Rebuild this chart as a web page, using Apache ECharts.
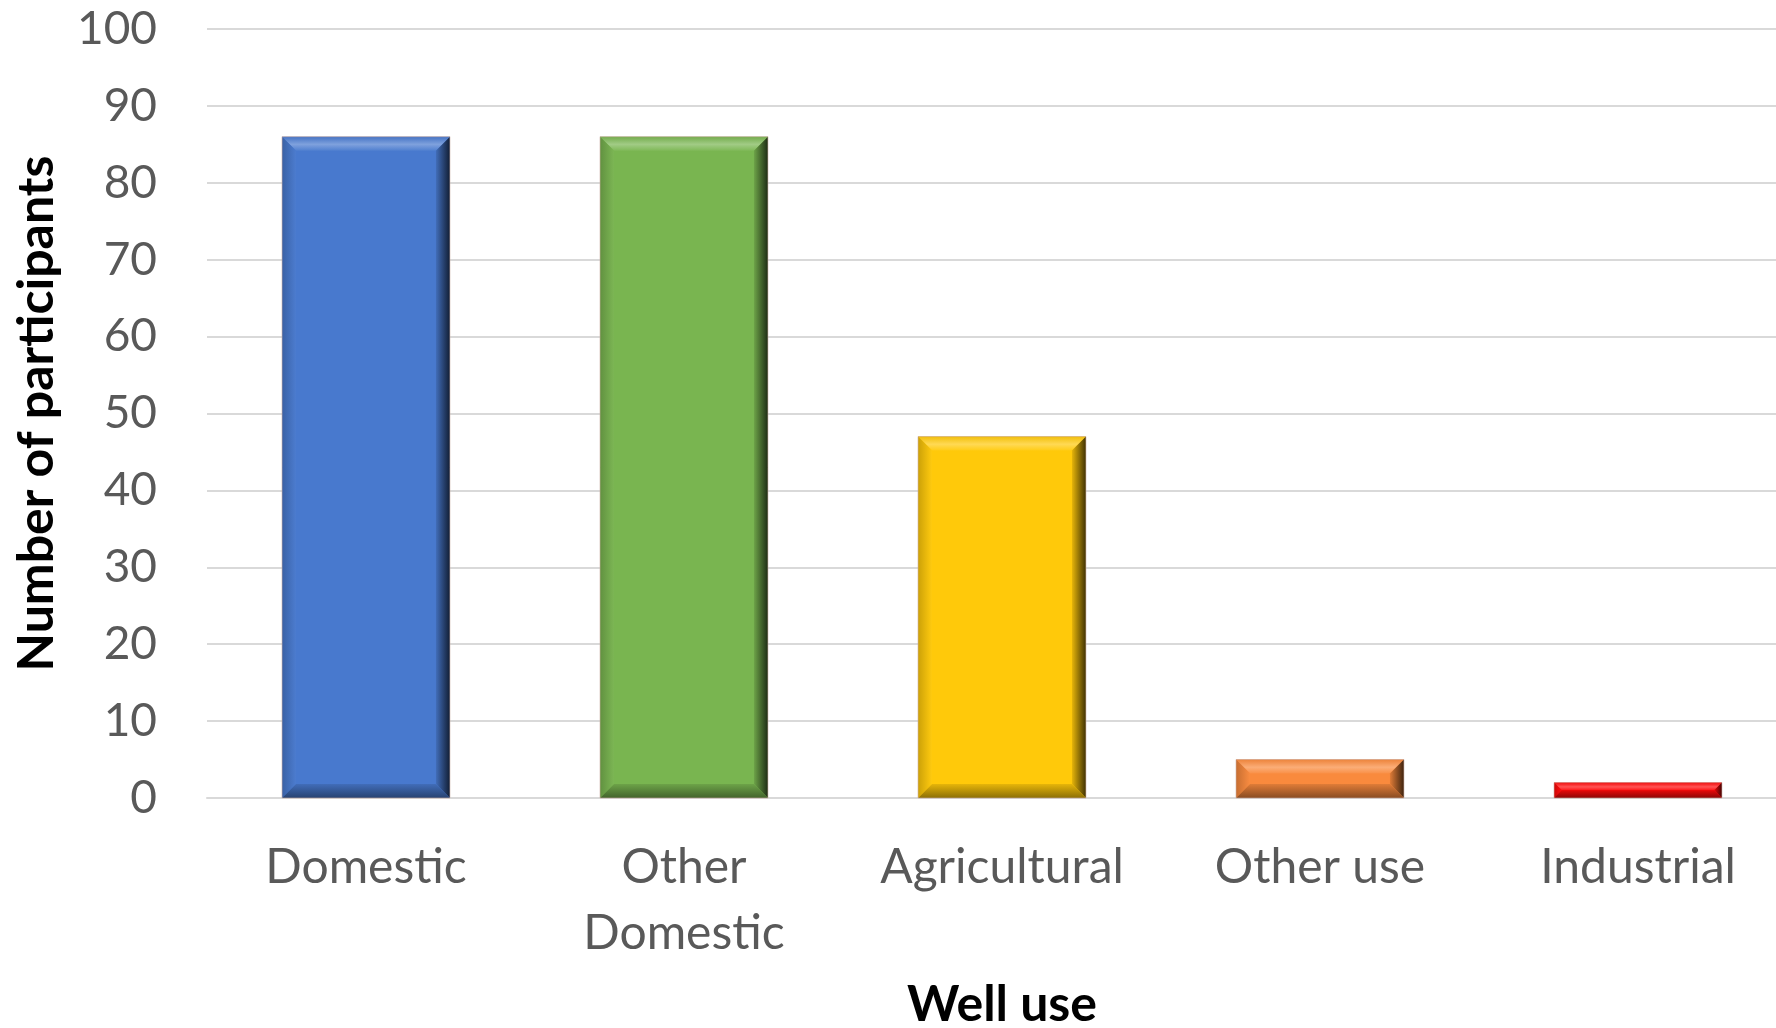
<!DOCTYPE html>
<html>
<head>
<meta charset="utf-8">
<title>Well use</title>
<script src="https://cdn.jsdelivr.net/npm/echarts@6/dist/echarts.min.js"></script>
<style>
  html, body { margin: 0; padding: 0; background: #ffffff; }
  #chart { width: 1776px; height: 1028px; }
</style>
</head>
<body>
<div id="chart"></div>
<script>
// Survey results: number of participants per well use
const categories = ['Domestic', 'Other\nDomestic', 'Agricultural', 'Other use', 'Industrial'];
const participants = [86, 86, 47, 5, 2];
const barColors = ['#4879CE', '#79B550', '#FFC90A', '#F98A3D', '#FF0A0A'];
const yTicks = { min: 0, max: 100, interval: 10 };

const FONT = 'Lato';

function shade(hex, f) {
  // f > 0 lightens towards white, f < 0 darkens towards black
  const n = parseInt(hex.slice(1), 16);
  let r = (n >> 16) & 255, g = (n >> 8) & 255, b = n & 255;
  const mix = (c) => f >= 0 ? Math.round(c + (255 - c) * f) : Math.round(c * (1 + f));
  return 'rgb(' + mix(r) + ',' + mix(g) + ',' + mix(b) + ')';
}

// Bevelled bar drawn from the category/value scales
function renderBevelBar(params, api) {
  const idx = api.value(0);
  const val = api.value(1);
  const top = api.coord([idx, val]);
  const base = api.coord([idx, 0]);
  const band = api.size([1, 0])[0];
  const w = band * 0.528;
  const x0 = top[0] - w / 2, x1 = top[0] + w / 2;
  const y0 = top[1], y1 = base[1];
  const h = y1 - y0;
  const b = Math.min(14, h / 2, w / 2);
  const c = barColors[idx];
  return {
    type: 'group',
    children: [
      { type: 'rect', shape: { x: x0, y: y0, width: w, height: h }, style: { fill: c } },
      // top bevel (highlight)
      { type: 'polygon', shape: { points: [[x0, y0], [x1, y0], [x1 - b, y0 + b], [x0 + b, y0 + b]] },
        style: { fill: { type: 'linear', x: 0, y: 0, x2: 0, y2: 1, colorStops: [
          { offset: 0, color: shade(c, -0.05) }, { offset: 0.55, color: shade(c, 0.3) }, { offset: 1, color: shade(c, 0.05) }] } } },
      // left bevel
      { type: 'polygon', shape: { points: [[x0, y0], [x0 + b, y0 + b], [x0 + b, y1 - b], [x0, y1]] },
        style: { fill: { type: 'linear', x: 0, y: 0, x2: 1, y2: 0, colorStops: [
          { offset: 0, color: shade(c, -0.2) }, { offset: 1, color: shade(c, 0.02) }] } } },
      // right bevel (shadow)
      { type: 'polygon', shape: { points: [[x1, y0], [x1, y1], [x1 - b, y1 - b], [x1 - b, y0 + b]] },
        style: { fill: { type: 'linear', x: 0, y: 0, x2: 1, y2: 0, colorStops: [
          { offset: 0, color: shade(c, -0.1) }, { offset: 1, color: shade(c, -0.75) }] } } },
      // bottom bevel
      { type: 'polygon', shape: { points: [[x0, y1], [x0 + b, y1 - b], [x1 - b, y1 - b], [x1, y1]] },
        style: { fill: { type: 'linear', x: 0, y: 0, x2: 0, y2: 1, colorStops: [
          { offset: 0, color: shade(c, -0.1) }, { offset: 1, color: shade(c, -0.45) }] } } },
      { type: 'rect', shape: { x: x0, y: y0, width: w, height: h },
        style: { fill: 'none', stroke: 'rgba(200,170,160,0.6)', lineWidth: 1 } }
    ]
  };
}

const chart = echarts.init(document.getElementById('chart'), null, { renderer: 'canvas' });
chart.setOption({
  animation: false,
  backgroundColor: '#ffffff',
  grid: { left: 207, right: -21, top: 29, bottom: 230, containLabel: false, outerBoundsMode: 'none' },
  xAxis: {
    type: 'category',
    data: categories,
    axisLine: { show: true, lineStyle: { color: '#d9d9d9', width: 2 } },
    axisTick: { show: false },
    axisLabel: {
      color: '#595959', fontFamily: FONT, fontSize: 48, lineHeight: 66, margin: 37, interval: 0
    },
    name: 'Well use',
    nameLocation: 'middle',
    nameGap: 182,
    nameTextStyle: { color: '#000000', fontFamily: FONT, fontSize: 50, fontWeight: 'bold' }
  },
  yAxis: {
    type: 'value',
    min: yTicks.min, max: yTicks.max, interval: yTicks.interval,
    axisLine: { show: false },
    axisTick: { show: false },
    splitLine: { show: true, lineStyle: { color: '#d9d9d9', width: 2 } },
    axisLabel: { color: '#595959', fontFamily: FONT, fontSize: 46, margin: 50 },
    name: 'Number of participants',
    nameLocation: 'middle',
    nameGap: 145,
    nameRotate: 90,
    nameTextStyle: { color: '#000000', fontFamily: FONT, fontSize: 50, fontWeight: 'bold' }
  },
  series: [{
    type: 'custom',
    renderItem: renderBevelBar,
    encode: { x: 0, y: 1 },
    data: participants.map((v, i) => [i, v])
  }]
});
</script>
</body>
</html>
